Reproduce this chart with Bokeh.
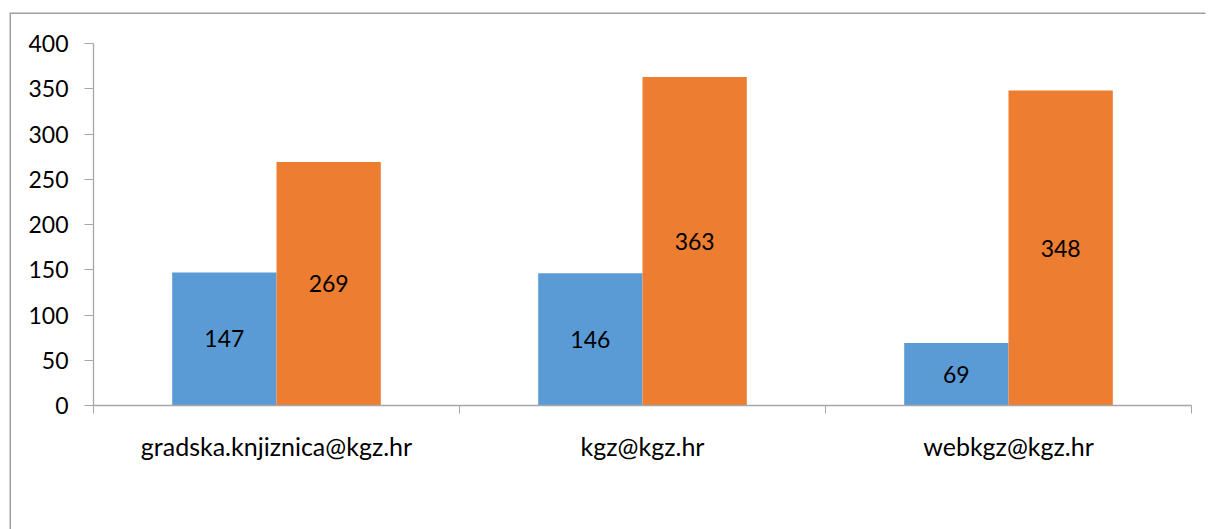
import numpy as np
from bokeh.plotting import figure
from bokeh.models import (ColumnDataSource, FixedTicker, LinearAxis, Range1d,
                          Legend, LegendItem)
from bokeh.core.properties import value
from bokeh.embed import file_html
from bokeh.resources import INLINE

categories = ["gradska.knjiznica@kgz.hr", "kgz@kgz.hr", "webkgz@kgz.hr"]
years = ["2019", "2020"]
values_2019 = [147, 146, 69]
values_2020 = [269, 363, 348]
y_ticks = [0, 50, 100, 150, 200, 250, 300, 350, 400]

FONT = "Lato"
FS = "23px"
FS_CAT = "25px"
BLUE = "#5B9BD5"
ORANGE = "#ED7D31"
GRAY = "#A6A6A6"
BAR_W = 0.285

centers = np.arange(len(categories)) + 0.5

p = figure(width=1196, height=514, frame_width=1098, frame_height=362,
           x_range=Range1d(0, len(categories)), y_range=Range1d(0, 400),
           output_backend="svg", toolbar_location=None,
           x_axis_type=None, y_axis_type=None,
           min_border_left=82, min_border_top=29, min_border_right=16,
           min_border_bottom=123)
p.outline_line_color = None
p.background_fill_color = "white"
p.border_fill_color = "white"
p.margin = (14, 0, 0, 11)
p.styles = {"box-shadow": "-1.5px -1.5px 0 0 #A0A0A0"}

# y axis
yax = LinearAxis(ticker=FixedTicker(ticks=y_ticks))
yax.axis_line_color = GRAY
yax.axis_line_width = 1.3
yax.major_tick_line_color = GRAY
yax.major_tick_out = 9
yax.major_tick_in = 0
yax.minor_tick_line_color = None
yax.major_label_standoff = 16
yax.major_label_text_font = FONT
yax.major_label_text_font_size = FS
yax.major_label_text_color = "black"
p.add_layout(yax, "left")

# x axis: labels at category centers, ticks at category boundaries
xax = LinearAxis(ticker=FixedTicker(ticks=list(centers),
                                    minor_ticks=list(range(len(categories) + 1))))
xax.major_label_overrides = {float(c): name for c, name in zip(centers, categories)}
xax.axis_line_color = GRAY
xax.axis_line_width = 1.3
xax.major_tick_line_color = None
xax.major_tick_out = 0
xax.major_tick_in = 0
xax.minor_tick_line_color = GRAY
xax.minor_tick_out = 8
xax.minor_tick_in = 0
xax.major_label_standoff = 17
xax.major_label_text_font = FONT
xax.major_label_text_font_size = FS_CAT
xax.major_label_text_color = "black"
p.add_layout(xax, "below")

# grid
p.ygrid.ticker = FixedTicker(ticks=y_ticks)
p.ygrid.grid_line_color = GRAY
p.ygrid.grid_line_dash = "5 4"
p.ygrid.grid_line_width = 1
p.xgrid.grid_line_color = None

src = ColumnDataSource(dict(
    x19=centers - BAR_W / 2, x20=centers + BAR_W / 2,
    v19=values_2019, v20=values_2020,
    m19=[v / 2 for v in values_2019], m20=[v / 2 for v in values_2020],
    t19=[str(v) for v in values_2019], t20=[str(v) for v in values_2020],
))

r19 = p.vbar(x="x19", top="v19", bottom=0, width=BAR_W, source=src,
             fill_color=BLUE, line_color=None)
r20 = p.vbar(x="x20", top="v20", bottom=0, width=BAR_W, source=src,
             fill_color=ORANGE, line_color=None)

for xk, yk, tk in (("x19", "m19", "t19"), ("x20", "m20", "t20")):
    p.text(x=xk, y=yk, text=tk, source=src, text_align="center",
           text_baseline="middle", text_font=value(FONT),
           text_font_size=FS, text_color="black")

legend = Legend(items=[LegendItem(label=years[0], renderers=[r19]),
                       LegendItem(label=years[1], renderers=[r20])],
                orientation="horizontal", location="top")
legend.glyph_width = 15
legend.glyph_height = 15
legend.label_standoff = 7
legend.spacing = 24
legend.label_text_font = FONT
legend.label_text_font_size = FS
legend.label_text_color = "black"
legend.border_line_color = None
legend.background_fill_alpha = 0
legend.padding = 0
legend.margin = 22
p.add_layout(legend, "below")

open("out.html", "w").write(file_html(p, INLINE))
